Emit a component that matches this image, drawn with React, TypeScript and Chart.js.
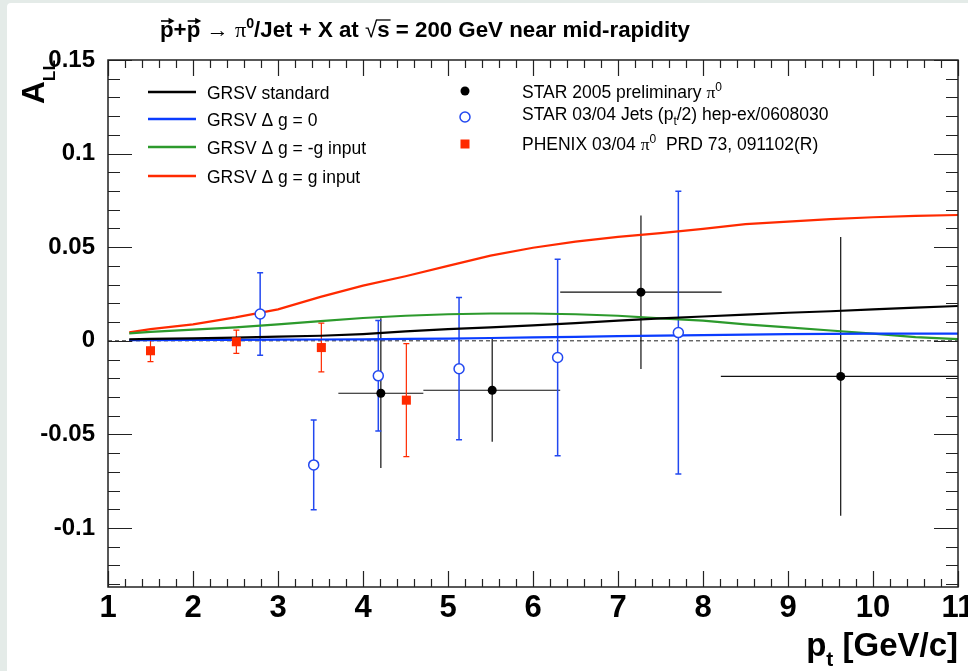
import React, { useEffect, useRef } from "react";
import { Chart, registerables } from "chart.js";

Chart.register(...registerables);

// ---- axis ranges and tick labels ----
const X_MIN = 1;
const X_MAX = 11;
const Y_MIN = -0.1315;
const Y_MAX = 0.15;
const xTickValues = [1, 2, 3, 4, 5, 6, 7, 8, 9, 10, 11];
const yTickValues = [-0.1, -0.05, 0, 0.05, 0.1, 0.15];
const yTickLabels = ["-0.1", "-0.05", "0", "0.05", "0.1", "0.15"];

// ---- GRSV theory curves (A_LL vs pT) ----
const curvePt = [1.25, 1.5, 2, 2.5, 3, 3.5, 4, 4.5, 5, 5.5, 6, 6.5, 7, 7.5, 8, 8.5, 9, 9.5, 10, 10.5, 11];
const grsvStandard = [0.0008, 0.001, 0.0013, 0.0017, 0.0022, 0.0027, 0.0036, 0.005, 0.0062, 0.0072, 0.0082, 0.0095, 0.0108, 0.012, 0.013, 0.014, 0.015, 0.0158, 0.0168, 0.0177, 0.0186];
const grsvZero = [0.0003, 0.0004, 0.0005, 0.0005, 0.0006, 0.0007, 0.0008, 0.001, 0.0012, 0.0015, 0.0018, 0.0021, 0.0025, 0.0028, 0.003, 0.0033, 0.0036, 0.0037, 0.0038, 0.0038, 0.0038];
const grsvMinusG = [0.004, 0.0048, 0.006, 0.0072, 0.0088, 0.0105, 0.0122, 0.0134, 0.0142, 0.0146, 0.0146, 0.0142, 0.0134, 0.012, 0.0108, 0.0088, 0.0072, 0.0055, 0.0038, 0.002, 0.0009];
const grsvPlusG = [0.0045, 0.0062, 0.0088, 0.0125, 0.0168, 0.0235, 0.0295, 0.0345, 0.04, 0.0455, 0.0497, 0.053, 0.0555, 0.0575, 0.0598, 0.0623, 0.0637, 0.065, 0.066, 0.0667, 0.0672];

// ---- STAR 2005 preliminary pi0 ----
const star05Pt = [4.21, 5.52, 7.27, 9.62];
const star05All = [-0.028, -0.0264, 0.026, -0.019];
const star05PtLow = [3.71, 4.71, 6.32, 8.21];
const star05PtHigh = [4.71, 6.32, 8.22, 11.03];
const star05Err = [0.04, 0.0275, 0.041, 0.0745];

// ---- STAR 03/04 jets (pT/2) ----
const starJetPt = [2.79, 3.42, 4.18, 5.13, 6.29, 7.71];
const starJetAll = [0.0143, -0.0663, -0.0187, -0.0149, -0.0089, 0.0044];
const starJetErr = [0.022, 0.024, 0.0295, 0.038, 0.0525, 0.0755];

// ---- PHENIX 03/04 pi0 ----
const phenixPt = [1.5, 2.51, 3.51, 4.51];
const phenixAll = [-0.0053, -0.0005, -0.0036, -0.0317];
const phenixErr = [0.0058, 0.0062, 0.013, 0.0302];

// ---- styling ----
const FONT = "'Liberation Sans', Arial, Helvetica, sans-serif";
const SERIF = "'Liberation Serif', 'DejaVu Serif', serif";
const bold = (s: number) => `bold ${s}px ${FONT}`;
const norm = (s: number) => `${s}px ${FONT}`;
const serif = (s: number) => `${s}px ${SERIF}`;

const C_BLACK = "#000000";
const C_BLUE = "#0a3cff";
const C_GREEN = "#2c9a2c";
const C_RED = "#ff2a00";
const C_MARK_BLUE = "#2248f0";
const C_MARK_RED = "#ff2a00";

type Seg = { t: string; font: string; dy?: number; arrow?: number; bar?: number };

function richWidth(ctx: CanvasRenderingContext2D, segs: Seg[]) {
  let w = 0;
  for (const s of segs) {
    ctx.font = s.font;
    w += ctx.measureText(s.t).width;
  }
  return w;
}

function drawRich(
  ctx: CanvasRenderingContext2D,
  segs: Seg[],
  x: number,
  y: number,
  opts: { align?: "left" | "right" | "center"; width?: number; color?: string } = {}
) {
  const natural = richWidth(ctx, segs);
  const sx = opts.width ? opts.width / natural : 1;
  const total = natural * sx;
  let x0 = x;
  if (opts.align === "right") x0 = x - total;
  if (opts.align === "center") x0 = x - total / 2;
  ctx.save();
  ctx.translate(x0, y);
  ctx.scale(sx, 1);
  ctx.textAlign = "left";
  ctx.textBaseline = "alphabetic";
  ctx.fillStyle = opts.color ?? "#000";
  ctx.strokeStyle = opts.color ?? "#000";
  let cx = 0;
  for (const s of segs) {
    ctx.font = s.font;
    const w = ctx.measureText(s.t).width;
    ctx.fillText(s.t, cx, s.dy ?? 0);
    if (s.arrow !== undefined) {
      const ay = s.arrow;
      ctx.lineWidth = 1.6;
      ctx.beginPath();
      ctx.moveTo(cx + 1, ay);
      ctx.lineTo(cx + w - 1, ay);
      ctx.stroke();
      ctx.beginPath();
      ctx.moveTo(cx + w + 1, ay);
      ctx.lineTo(cx + w - 5, ay - 3.2);
      ctx.lineTo(cx + w - 5, ay + 3.2);
      ctx.closePath();
      ctx.fill();
    }
    if (s.bar !== undefined) {
      ctx.lineWidth = 1.3;
      ctx.beginPath();
      ctx.moveTo(cx - 1, s.bar);
      ctx.lineTo(cx + w + 1, s.bar);
      ctx.stroke();
    }
    cx += w;
  }
  ctx.restore();
}

const pts = (xs: number[], ys: number[]) => xs.map((x, i) => ({ x, y: ys[i] }));

export default function App() {
  const canvasRef = useRef<HTMLCanvasElement | null>(null);

  useEffect(() => {
    const canvas = canvasRef.current;
    if (!canvas) return;

    const pagePlugin = {
      id: "pageBackground",
      beforeDraw(chart: Chart) {
        const ctx = chart.ctx;
        ctx.save();
        ctx.fillStyle = "#e4ebe8";
        ctx.fillRect(0, 0, chart.width, chart.height);
        ctx.fillStyle = "#ffffff";
        ctx.beginPath();
        ctx.roundRect(7, 3, chart.width - 7, chart.height - 3, [4, 0, 0, 0]);
        ctx.fill();
        ctx.restore();
      },
    };

    // reference line at A_LL = 0 and all error bars, under the markers
    const underlayPlugin = {
      id: "underlay",
      beforeDatasetsDraw(chart: Chart) {
        const ctx = chart.ctx;
        const xs = chart.scales.x;
        const ys = chart.scales.y;
        const { left, right, top, bottom } = chart.chartArea;
        ctx.save();
        ctx.beginPath();
        ctx.rect(left, top, right - left, bottom - top);
        ctx.clip();

        ctx.strokeStyle = "#222";
        ctx.lineWidth = 1;
        ctx.setLineDash([4, 3]);
        ctx.beginPath();
        ctx.moveTo(xs.getPixelForValue(X_MIN), ys.getPixelForValue(0));
        ctx.lineTo(xs.getPixelForValue(X_MAX), ys.getPixelForValue(0));
        ctx.stroke();
        ctx.setLineDash([]);

        // STAR 2005: horizontal bin bars + vertical stat errors, no caps
        ctx.strokeStyle = "#111";
        ctx.lineWidth = 1.2;
        star05Pt.forEach((x, i) => {
          const px = xs.getPixelForValue(x);
          const py = ys.getPixelForValue(star05All[i]);
          ctx.beginPath();
          ctx.moveTo(xs.getPixelForValue(star05PtLow[i]), py);
          ctx.lineTo(xs.getPixelForValue(star05PtHigh[i]), py);
          ctx.moveTo(px, ys.getPixelForValue(star05All[i] + star05Err[i]));
          ctx.lineTo(px, ys.getPixelForValue(star05All[i] - star05Err[i]));
          ctx.stroke();
        });

        const capped = (xsArr: number[], yArr: number[], eArr: number[], color: string, lw: number) => {
          ctx.strokeStyle = color;
          ctx.lineWidth = lw;
          xsArr.forEach((x, i) => {
            const px = xs.getPixelForValue(x);
            const yt = ys.getPixelForValue(yArr[i] + eArr[i]);
            const yb = ys.getPixelForValue(yArr[i] - eArr[i]);
            ctx.beginPath();
            ctx.moveTo(px, yt);
            ctx.lineTo(px, yb);
            ctx.moveTo(px - 3, yt);
            ctx.lineTo(px + 3, yt);
            ctx.moveTo(px - 3, yb);
            ctx.lineTo(px + 3, yb);
            ctx.stroke();
          });
        };
        capped(starJetPt, starJetAll, starJetErr, C_MARK_BLUE, 1.5);
        capped(phenixPt, phenixAll, phenixErr, C_MARK_RED, 1.2);
        ctx.restore();
      },
    };

    // frame, tick marks, axis labels, title and legend
    const overlayPlugin = {
      id: "overlay",
      afterDraw(chart: Chart) {
        const ctx = chart.ctx;
        const xs = chart.scales.x;
        const ys = chart.scales.y;
        const { left, right, top, bottom } = chart.chartArea;
        ctx.save();

        // ticks
        ctx.strokeStyle = "#222";
        ctx.lineWidth = 1.2;
        ctx.beginPath();
        for (let i = 0; i <= 50; i++) {
          const v = X_MIN + i * 0.2;
          const major = i % 5 === 0;
          const px = Math.round(xs.getPixelForValue(v)) + 0.5;
          const len = major ? 16 : 8;
          ctx.moveTo(px, bottom);
          ctx.lineTo(px, bottom - len);
          ctx.moveTo(px, top);
          ctx.lineTo(px, top + len);
        }
        for (let i = -13; i <= 15; i++) {
          const v = i * 0.01;
          const major = i % 5 === 0;
          const py = Math.round(ys.getPixelForValue(v)) + 0.5;
          const len = major ? 24 : 12;
          ctx.moveTo(left, py);
          ctx.lineTo(left + len, py);
          ctx.moveTo(right, py);
          ctx.lineTo(right - len, py);
        }
        ctx.stroke();

        // frame
        ctx.lineWidth = 1.5;
        ctx.strokeStyle = "#222";
        ctx.strokeRect(left, top, right - left, bottom - top);

        // x tick labels
        ctx.fillStyle = "#000";
        ctx.font = bold(31);
        ctx.textAlign = "center";
        ctx.textBaseline = "alphabetic";
        xTickValues.forEach((v) => {
          ctx.fillText(String(v), xs.getPixelForValue(v), 617);
        });

        // x axis title
        drawRich(
          ctx,
          [
            { t: "p", font: bold(33) },
            { t: "t", font: bold(21), dy: 10 },
            { t: " [GeV/c]", font: bold(33) },
          ],
          right,
          656,
          { align: "right" }
        );

        // y axis title, reading upwards
        ctx.save();
        ctx.translate(44, 104);
        ctx.rotate(-Math.PI / 2);
        drawRich(
          ctx,
          [
            { t: "A", font: bold(31) },
            { t: "LL", font: bold(17), dy: 11 },
          ],
          0,
          0,
          { width: 44 }
        );
        ctx.restore();

        // title
        drawRich(
          ctx,
          [
            { t: "p", font: bold(22), arrow: -16 },
            { t: "+", font: bold(22) },
            { t: "p", font: bold(22), arrow: -16 },
            { t: " \u2192 ", font: norm(22) },
            { t: "\u03c0", font: serif(22) },
            { t: "0", font: bold(14), dy: -9 },
            { t: "/Jet + X at ", font: bold(22) },
            { t: "\u221a", font: norm(22) },
            { t: "s", font: bold(22), bar: -17 },
            { t: " = 200 GeV near mid-rapidity", font: bold(22) },
          ],
          160,
          37,
          { width: 530 }
        );

        // legend: theory curves
        const legFont = norm(17.5);
        const curveRows: [string, string, number][] = [
          ["GRSV standard", C_BLACK, 92],
          ["GRSV \u0394 g = 0", C_BLUE, 119],
          ["GRSV \u0394 g = -g input", C_GREEN, 147],
          ["GRSV \u0394 g = g input", C_RED, 176],
        ];
        curveRows.forEach(([label, color, y]) => {
          ctx.strokeStyle = color;
          ctx.lineWidth = 2.5;
          ctx.beginPath();
          ctx.moveTo(148, y);
          ctx.lineTo(196, y);
          ctx.stroke();
          drawRich(ctx, [{ t: label, font: legFont }], 207, y + 6.5);
        });

        // legend: data sets
        ctx.fillStyle = "#000";
        ctx.beginPath();
        ctx.arc(465, 91, 4.5, 0, Math.PI * 2);
        ctx.fill();
        ctx.fillStyle = "#fff";
        ctx.strokeStyle = C_MARK_BLUE;
        ctx.lineWidth = 1.5;
        ctx.beginPath();
        ctx.arc(465, 117, 5, 0, Math.PI * 2);
        ctx.fill();
        ctx.stroke();
        ctx.fillStyle = C_MARK_RED;
        ctx.fillRect(460.5, 139.5, 9, 9);

        drawRich(
          ctx,
          [
            { t: "STAR 2005 preliminary ", font: legFont },
            { t: "\u03c0", font: serif(17.5) },
            { t: "0", font: norm(12), dy: -7 },
          ],
          522,
          97.5
        );
        drawRich(
          ctx,
          [
            { t: "STAR 03/04 Jets (p", font: legFont },
            { t: "t", font: norm(12), dy: 5 },
            { t: "/2) hep-ex/0608030", font: legFont },
          ],
          522,
          120
        );
        drawRich(
          ctx,
          [
            { t: "PHENIX 03/04 ", font: legFont },
            { t: "\u03c0", font: serif(17.5) },
            { t: "0", font: norm(12), dy: -7 },
            { t: "  PRD 73, 091102(R)", font: legFont },
          ],
          522,
          150
        );

        ctx.restore();
      },
    };

    const curve = (label: string, ys: number[], color: string, order: number) => ({
      label,
      data: pts(curvePt, ys),
      showLine: true,
      borderColor: color,
      backgroundColor: color,
      borderWidth: 2.2,
      pointRadius: 0,
      tension: 0,
      order,
    });

    const chart = new Chart(canvas, {
      type: "scatter",
      data: {
        datasets: [
          {
            label: "STAR 2005 preliminary \u03c0\u2070",
            data: pts(star05Pt, star05All),
            pointStyle: "circle",
            pointRadius: 4.5,
            pointBackgroundColor: "#000",
            pointBorderColor: "#000",
            pointBorderWidth: 0,
            order: 0,
          },
          {
            label: "STAR 03/04 Jets (pt/2) hep-ex/0608030",
            data: pts(starJetPt, starJetAll),
            pointStyle: "circle",
            pointRadius: 5,
            pointBackgroundColor: "#fff",
            pointBorderColor: C_MARK_BLUE,
            pointBorderWidth: 1.5,
            order: 0,
          },
          {
            label: "PHENIX 03/04 \u03c0\u2070 PRD 73, 091102(R)",
            data: pts(phenixPt, phenixAll),
            pointStyle: "rect",
            pointRadius: 6.4,
            pointBackgroundColor: C_MARK_RED,
            pointBorderColor: C_MARK_RED,
            pointBorderWidth: 0,
            order: 0,
          },
          curve("GRSV standard", grsvStandard, C_BLACK, 1),
          curve("GRSV \u0394g = 0", grsvZero, C_BLUE, 2),
          curve("GRSV \u0394g = -g input", grsvMinusG, C_GREEN, 3),
          curve("GRSV \u0394g = g input", grsvPlusG, C_RED, 4),
        ],
      },
      options: {
        responsive: false,
        animation: false,
        devicePixelRatio: 1,
        events: [],
        layout: { padding: { left: 0, right: 10, top: 60, bottom: 0 } },
        plugins: {
          legend: { display: false },
          tooltip: { enabled: false },
          title: { display: false },
        },
        scales: {
          x: {
            type: "linear",
            min: X_MIN,
            max: X_MAX,
            grid: { display: false },
            border: { display: false },
            ticks: { display: false, stepSize: 1 },
            afterFit: (s: any) => {
              s.height = 84;
            },
          },
          y: {
            type: "linear",
            min: Y_MIN,
            max: Y_MAX,
            grid: { display: false },
            border: { display: false },
            afterBuildTicks: (s: any) => {
              s.ticks = yTickValues.map((value) => ({ value }));
            },
            ticks: {
              color: "#000",
              font: { family: FONT, size: 24, weight: "bold" },
              padding: 5,
              callback: (v: any) => {
                const i = yTickValues.findIndex((t) => Math.abs(t - Number(v)) < 1e-9);
                return i >= 0 ? yTickLabels[i] : "";
              },
            },
            afterFit: (s: any) => {
              s.width = 108;
            },
          },
        },
      },
      plugins: [pagePlugin, underlayPlugin, overlayPlugin],
    } as any);

    return () => chart.destroy();
  }, []);

  return (
    <div style={{ position: "fixed", left: 0, top: 0, width: 968, height: 671 }}>
      <canvas ref={canvasRef} width={968} height={671} style={{ display: "block" }} />
    </div>
  );
}
